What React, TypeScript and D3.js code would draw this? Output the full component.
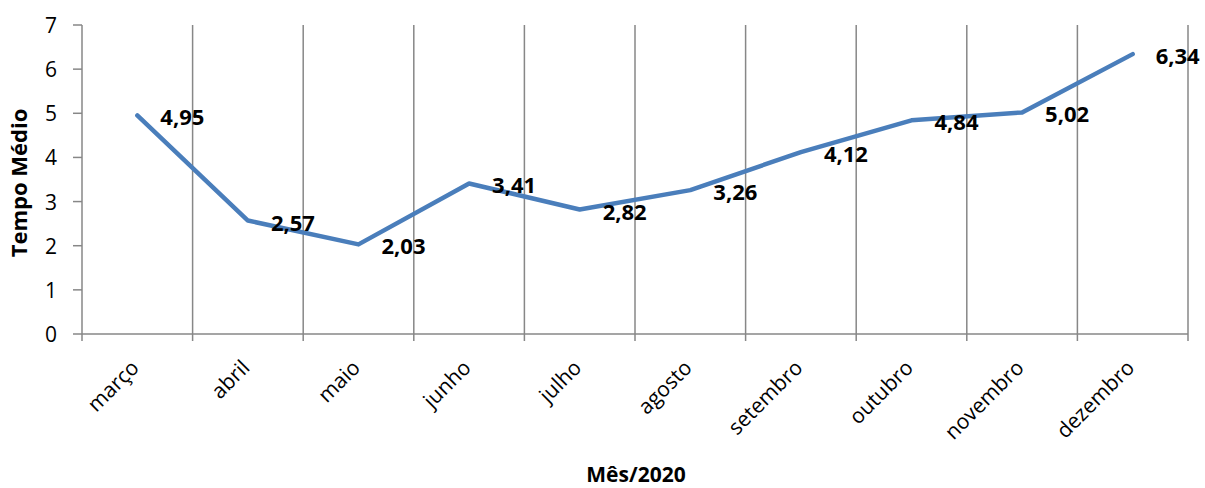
import React from "react";
import * as d3 from "d3";

const months = ["março", "abril", "maio", "junho", "julho", "agosto", "setembro", "outubro", "novembro", "dezembro"];
const values = [4.95, 2.57, 2.03, 3.41, 2.82, 3.26, 4.12, 4.84, 5.02, 6.34];
const yTicks = [0, 1, 2, 3, 4, 5, 6, 7];
const yTitle = "Tempo Médio";
const xTitle = "Mês/2020";

const W = 1205;
const H = 488;
const left = 82;
const right = 1188;
const top = 25;
const bottom = 334;
const FONT = "'Open Sans', 'Noto Sans', sans-serif";
const GRID = "#878787";
const LINE = "#4A7EBB";

export default function App() {
  const x = d3.scaleBand<string>().domain(months).range([left, right]).padding(0);
  const y = d3.scaleLinear().domain([0, 7]).range([bottom, top]);
  const cx = (m: string) => (x(m) as number) + x.bandwidth() / 2;
  const boundaries = d3.range(months.length + 1).map((i) => left + i * x.bandwidth());
  const line = d3
    .line<number>()
    .x((_, i) => cx(months[i]))
    .y((v) => y(v));
  const fmt = (v: number) => v.toFixed(2).replace(".", ",");

  return (
    <svg width={W} height={H} style={{ position: "absolute", left: 0, top: 0, background: "#fff" }} fontFamily={FONT}>
      {boundaries.map((bx, i) => (
        <line key={"g" + i} x1={bx} x2={bx} y1={top} y2={bottom + 7} stroke={GRID} strokeWidth={1.5} />
      ))}
      <line x1={left} x2={right} y1={bottom} y2={bottom} stroke={GRID} strokeWidth={1.5} />
      {yTicks.map((t) => (
        <g key={"y" + t}>
          <line x1={left - 9} x2={left} y1={y(t)} y2={y(t)} stroke={GRID} strokeWidth={1.5} />
          <text x={57} y={y(t)} textAnchor="end" dominantBaseline="central" fontSize={21} fill="#000">
            {t}
          </text>
        </g>
      ))}
      {months.map((m) => (
        <text
          key={m}
          transform={`translate(${cx(m) + 3},${bottom + 35}) rotate(-45)`}
          textAnchor="end"
          fontSize={21}
          fill="#000"
        >
          {m}
        </text>
      ))}
      <path d={line(values) || ""} fill="none" stroke={LINE} strokeWidth={4.5} strokeLinejoin="round" strokeLinecap="round" />
      {values.map((v, i) => (
        <text
          key={"l" + i}
          x={cx(months[i]) + 23}
          y={y(v) + 1}
          dominantBaseline="central"
          fontSize={22}
          fontWeight="bold"
          fill="#000"
        >
          {fmt(v)}
        </text>
      ))}
      <text
        transform={`translate(27,${183}) rotate(-90)`}
        textAnchor="middle"
        fontSize={22}
        fontWeight="bold"
        fill="#000"
      >
        {yTitle}
      </text>
      <text x={636} y={482} textAnchor="middle" fontSize={21} fontWeight="bold" fill="#000">
        {xTitle}
      </text>
    </svg>
  );
}
